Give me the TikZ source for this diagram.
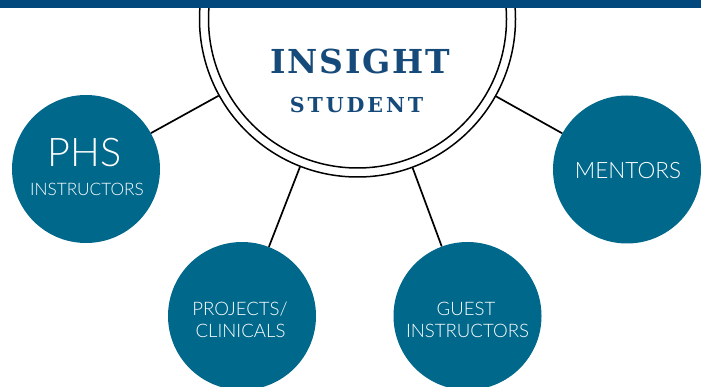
\documentclass[tikz,border=0pt]{standalone}
\usepackage{fontspec}
\setmainfont{Lato Light}
\newfontfamily\slab{DejaVu Serif}
\definecolor{barblue}{RGB}{2,72,125}
\definecolor{satblue}{RGB}{0,104,139}
\definecolor{titleblue}{RGB}{22,74,122}
\begin{document}
\begin{tikzpicture}[x=1pt,y=-1pt,
  sat/.style={circle, fill=satblue, minimum size=148pt, inner sep=0pt},
  ring/.style={circle, draw=black, line width=1.5pt, inner sep=0pt},
  link/.style={draw=black, line width=1.7pt},
  lab/.style={anchor=base, inner sep=0pt, text=white},
  ttl/.style={anchor=base, inner sep=0pt, text=titleblue}]
\path[use as bounding box] (0,0) rectangle (701,387);
\clip (0,0) rectangle (701,387);
\fill[white] (0,0) rectangle (701,387);
% central double circle
\node[ring, minimum size=316pt] (outer) at (357.5,19) {};
\node[ring, minimum size=298pt] (inner) at (357.5,19) {};
% satellites
\node[sat] (phs) at (86,169) {};
\node[sat] (proj) at (242,316) {};
\node[sat] (guest) at (467.5,316) {};
\node[sat] (ment) at (627,169.5) {};
% connectors
\draw[link] (outer) -- (phs);
\draw[link] (outer) -- (proj);
\draw[link] (outer) -- (guest);
\draw[link] (outer) -- (ment);
% top bar
\fill[barblue] (0,0) rectangle (701,8.5);
% titles
\node[ttl, font=\slab\bfseries\fontsize{33}{33}\selectfont\addfontfeatures{LetterSpace=5.5}] (insight) at (360,74) {INSIGHT};
\node[ttl, font=\slab\bfseries\fontsize{20.6}{20.6}\selectfont\addfontfeatures{LetterSpace=14}] (student) at (356.5,113) {STUDENT};
% labels
\node[lab, font=\fontsize{39.5}{39.5}\selectfont] (phst) at (84.5,167) {PHS};
\node[lab, font=\fontsize{17.2}{17.2}\selectfont] (phsi) at (87,196) {INSTRUCTORS};
\node[lab, font=\fontsize{18.6}{18.6}\selectfont] (projt) at (240,315) {PROJECTS/};
\node[lab, font=\fontsize{18.6}{18.6}\selectfont] (projc) at (240.5,337) {CLINICALS};
\node[lab, font=\fontsize{18.6}{18.6}\selectfont] (guestt) at (466,315) {GUEST};
\node[lab, font=\fontsize{18.6}{18.6}\selectfont] (guesti) at (467.5,337) {INSTRUCTORS};
\node[lab, font=\fontsize{22.5}{22.5}\selectfont] (mentt) at (628,179) {MENTORS};
\end{tikzpicture}
\end{document}
